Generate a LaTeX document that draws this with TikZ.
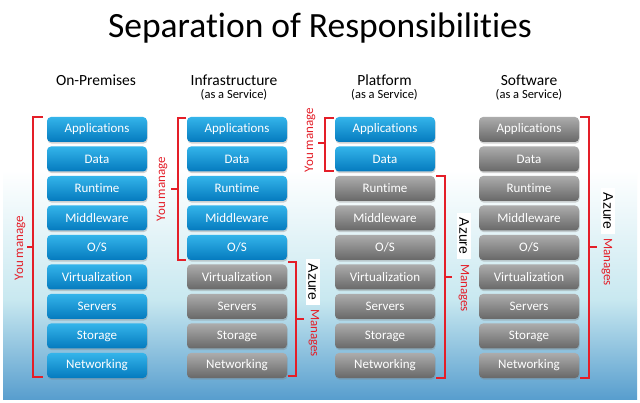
\documentclass[tikz,border=0pt]{standalone}
\usepackage{fontspec}
\setmainfont{Carlito}[Ligatures=NoCommon]
\newfontfamily\azfont{Liberation Sans}
\usetikzlibrary{shadows}
\definecolor{brk}{RGB}{228,30,40}
\definecolor{bluetop}{RGB}{52,180,234}
\definecolor{bluebot}{RGB}{4,122,190}
\definecolor{graytop}{RGB}{172,172,172}
\definecolor{graybot}{RGB}{104,104,104}
\definecolor{bgmid}{RGB}{200,232,240}
\definecolor{bgbot}{RGB}{88,158,206}
\tikzset{
  bx/.style={rounded corners=4pt, minimum width=100pt, minimum height=25pt, inner sep=0pt,
    text=white, font=\fontsize{13}{13}\selectfont,
    drop shadow={opacity=0.35, shadow xshift=0.6pt, shadow yshift=-1.6pt}},
  bl/.style={bx, top color=bluetop, bottom color=bluebot},
  gr/.style={bx, top color=graytop, bottom color=graybot},
  brkline/.style={draw=brk, line width=1.2pt},
  mlab/.style={text=brk, font=\fontsize{13}{13}\selectfont, inner sep=0pt},
  azl/.style={fill=white, text=black, font=\azfont\fontsize{14}{14}\selectfont, inner xsep=5pt, inner ysep=2pt},
  hdr/.style={anchor=base, font=\fontsize{15.5}{15.5}\selectfont, inner sep=0pt},
  sub/.style={anchor=base, font=\fontsize{12.5}{12.5}\selectfont, inner sep=0pt},
}
\begin{document}
\begin{tikzpicture}[x=1pt,y=-1pt]
\useasboundingbox (0,0) rectangle (640,403);
\fill[white] (0,0) rectangle (640,403);
\shade[top color=white, bottom color=bgmid] (3,170) rectangle (637,300);
\shade[top color=bgmid, bottom color=bgbot] (3,299.5) rectangle (637,399);

\node[anchor=base, font=\fontsize{35.5}{35.5}\selectfont, inner sep=0pt] (title) at (320,38) {Separation of Responsibilities};

\node[hdr] (h1) at (96,86) {On-Premises};
\node[hdr] (h2) at (234,86) {Infrastructure};
\node[sub] (s2) at (234,99) {(as a Service)};
\node[hdr] (h3) at (384.5,86) {Platform};
\node[sub] (s3) at (384.5,99) {(as a Service)};
\node[hdr] (h4) at (529,86) {Software};
\node[sub] (s4) at (529,99) {(as a Service)};

\foreach \t [count=\i] in {Applications,Data,Runtime,Middleware,O/S,Virtualization,Servers,Storage,Networking} {
  \pgfmathsetmacro\yy{129.5+29.5*(\i-1)}
  \node[bl] (op\i) at (97,\yy) {\t};
  \ifnum\i<6 \node[bl] (ia\i) at (237,\yy) {\t}; \else \node[gr] (ia\i) at (237,\yy) {\t}; \fi
  \ifnum\i<3 \node[bl] (pa\i) at (385,\yy) {\t}; \else \node[gr] (pa\i) at (385,\yy) {\t}; \fi
  \node[gr] (sa\i) at (529,\yy) {\t};
}

% On-Premises: You manage
\draw[brkline] (43,117) -- (33,117) -- (33,377) -- (43,377);
\draw[brkline] (33,247) -- (27,247);
\node[mlab, rotate=90] (ym1) at (20,248) {You manage};

% IaaS: You manage
\draw[brkline] (186,118) -- (178,118) -- (178,260) -- (186,260);
\draw[brkline] (178,189) -- (171,189);
\node[mlab, rotate=90] (ym2) at (162,189) {You manage};

% IaaS: Azure Manages
\draw[brkline] (288,262) -- (296,262) -- (296,376) -- (288,376);
\draw[brkline] (296,319) -- (304,319);
\node[azl, rotate=-90] (az2) at (313,282) {Azure};
\node[mlab, rotate=-90] (mg2) at (314,333) {Manages};

% PaaS: You manage
\draw[brkline] (334,118) -- (325,118) -- (325,171) -- (334,171);
\draw[brkline] (325,143) -- (318,143);
\node[mlab, rotate=90] (ym3) at (310,140) {You manage};

% PaaS: Azure Manages
\draw[brkline] (436,176) -- (445,176) -- (445,378) -- (436,378);
\draw[brkline] (445,277) -- (452,277);
\node[azl, rotate=-90] (az3) at (464,236) {Azure};
\node[mlab, rotate=-90] (mg3) at (464,288) {Manages};

% SaaS: Azure Manages
\draw[brkline] (580,117) -- (589,117) -- (589,378) -- (580,378);
\draw[brkline] (589,247) -- (597,247);
\node[azl, rotate=-90] (az4) at (608,211) {Azure};
\node[mlab, rotate=-90] (mg4) at (607,262) {Manages};
\end{tikzpicture}
\end{document}
